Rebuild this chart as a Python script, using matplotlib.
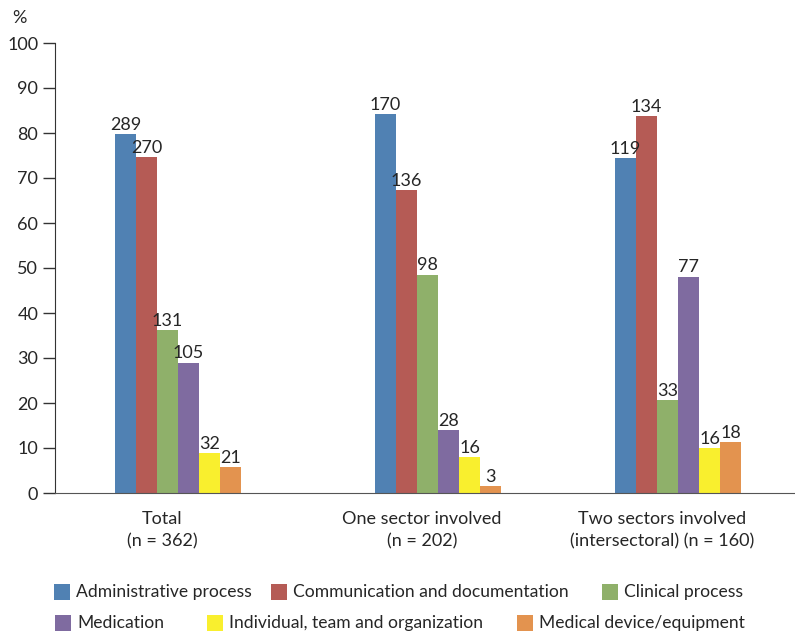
import numpy as np
import matplotlib
matplotlib.use('Agg')
import matplotlib.pyplot as plt
from matplotlib.patches import Rectangle

plt.rcParams['font.family'] = ['Lato', 'DejaVu Sans']

groups = ['Total\n(n = 362)', 'One sector involved\n(n = 202)',
          'Two sectors involved\n(intersectoral) (n = 160)']
series = ['Administrative process', 'Communication and documentation',
          'Clinical process', 'Medication', 'Individual, team and organization',
          'Medical device/equipment']
# percentages per series, one value per group
admin = [79.8, 84.2, 74.4]
comm = [74.6, 67.3, 83.8]
clinical = [36.2, 48.5, 20.6]
medication = [29.0, 13.9, 48.1]
individual = [8.8, 7.9, 10.0]
device = [5.8, 1.5, 11.3]
# counts shown above the bars
admin_n = [289, 170, 119]
comm_n = [270, 136, 134]
clinical_n = [131, 98, 33]
medication_n = [105, 28, 77]
individual_n = [32, 16, 16]
device_n = [21, 3, 18]

values = [admin, comm, clinical, medication, individual, device]
counts = [admin_n, comm_n, clinical_n, medication_n, individual_n, device_n]
colors = ['#5081B3', '#B55B55', '#8FB06A', '#7F6BA0', '#F9EF2E', '#E3934F']
txt = '#262626'
fs = 13

fig = plt.figure(figsize=(7.95, 6.32), dpi=100)
ax = fig.add_axes([55/795, 1-493/632, 740/795, 450/632])

xpos = np.array([0, 1.04, 2.0])
w = 0.084
for i in range(len(series)):
    xs = xpos + 0.064 + (i - 2.5) * w
    ax.bar(xs, values[i], width=w, color=colors[i], linewidth=0)
    for x, v, c in zip(xs, values[i], counts[i]):
        ax.text(x, v + 0.3, str(c), ha='center', va='bottom', fontsize=fs, color=txt)

ax.set_ylim(0, 100)
ax.set_xlim((55-162)/250, (795-162)/250)
ax.set_yticks(range(0, 101, 10))
ax.tick_params(axis='y', length=9, width=1, pad=3, labelsize=fs, colors='#333333', labelcolor=txt)
ax.set_xticks(xpos)
ax.set_xticklabels(groups, fontsize=fs, color=txt, linespacing=1.45)
ax.tick_params(axis='x', length=0, pad=13)
for s in ['top', 'right']:
    ax.spines[s].set_visible(False)
ax.spines['left'].set_color('#333333')
ax.spines['bottom'].set_color('#555555')
fig.text(12/795, 1-18/632, '%', fontsize=fs, color=txt, va='center')

# legend laid out in two rows like the original
leg_x = [54, 271, 602, 55, 207, 517]
leg_y = [592, 592, 592, 623, 623, 623]
for i in range(len(series)):
    fig.add_artist(Rectangle((leg_x[i]/795, 1-(leg_y[i]+8)/632), 16/795, 16/632,
                             transform=fig.transFigure, color=colors[i], linewidth=0))
    fig.text((leg_x[i]+22)/795, 1-leg_y[i]/632, series[i], fontsize=12.6,
             color=txt, va='center')

fig.savefig('out.png', dpi=100)
